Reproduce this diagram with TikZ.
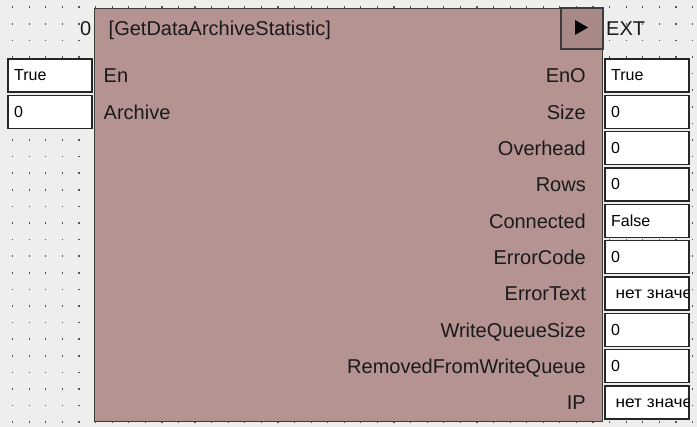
\documentclass[tikz,border=0pt]{standalone}
\usepackage{fontspec}
\setmainfont{Liberation Sans}
\usetikzlibrary{positioning}
\definecolor{fundo}{HTML}{EEEEEC}
\definecolor{ponto}{HTML}{555555}
\definecolor{corbloco}{HTML}{B49391}
\definecolor{corbotao}{HTML}{A88987}
\definecolor{linhabloco}{HTML}{3C3C3C}
\definecolor{texto}{HTML}{1A1A1A}
\newcommand{\semvalor}{\ \scalebox{1.08}[1]{нет значения}}

\tikzset{
  blockbox/.style={draw=linhabloco, line width=1.5pt, fill=corbloco, inner sep=0pt},
  runbox/.style={draw=linhabloco, line width=1.2pt, fill=corbotao, inner sep=0pt,
    minimum width=42pt, minimum height=41pt},
  valbox/.style={draw=black!85, line width=1.3pt, fill=white, inner sep=0pt,
    minimum width=84pt, minimum height=33pt},
  pinlbl/.style={font=\fontsize{20}{24}\selectfont, text=texto, inner sep=0pt},
  valtxt/.style={font=\fontsize{16}{19}\selectfont, text=black, inner sep=0pt, anchor=base west},
}

\begin{document}
\begin{tikzpicture}[x=1pt,y=-1pt]
  \useasboundingbox (0,0) rectangle (697,427);
  % fundo
  \fill[fundo] (0,0) rectangle (697,427);
  % grade de pontos
  \foreach \i in {0,...,41}
    \foreach \j in {0,...,25}
      \fill[ponto] ({12.1+16.58*\i},{6.5+16.6*\j}) rectangle +(1.2,1.6);
  % bloco
  \node[blockbox, minimum width=508pt, minimum height=413pt] (blk) at (348.5,214.8) {};
  \node[runbox] (run) at (582,28.5) {};
  \fill[black] (run.center) ++(-7,-8.5) -- ++(0,15) -- ++(13,-7.5) -- cycle;
  \node[pinlbl, anchor=base west] (title) at (108.5,36) {[GetDataArchiveStatistic]};
  \node[pinlbl, anchor=base east] (cnt) at (91.5,36) {0};
  \node[pinlbl, anchor=base west] (ext) at (606,36) {EXT};
  % entradas
  \foreach \lbl/\val [count=\k from 0] in {En/True, Archive/0} {
    \node[valbox] (in\k) at (50,75.5+36.33*\k) {};
    \node[valtxt] (inv\k) at (14,81+36.33*\k) {\val};
    \node[pinlbl, anchor=base west] (inl\k) at (103.5,82.7+36.33*\k) {\lbl};
  }
  % saidas
  \foreach \lbl/\val [count=\k from 0] in {EnO/True, Size/0, Overhead/0, Rows/0,
      Connected/False, ErrorCode/0, ErrorText/\semvalor, WriteQueueSize/0,
      RemovedFromWriteQueue/0, IP/\semvalor} {
    \node[valbox] (out\k) at (647,75.5+36.33*\k) {};
    \begin{scope}
      \clip ([shift={(0.7,-0.7)}]out\k.south west) rectangle ([shift={(-0.7,0.7)}]out\k.north east);
      \node[valtxt] (outv\k) at (611,81+36.33*\k) {\val};
    \end{scope}
    \node[pinlbl, anchor=base east] (outl\k) at (586,82.7+36.33*\k) {\lbl};
  }
\end{tikzpicture}
\end{document}
